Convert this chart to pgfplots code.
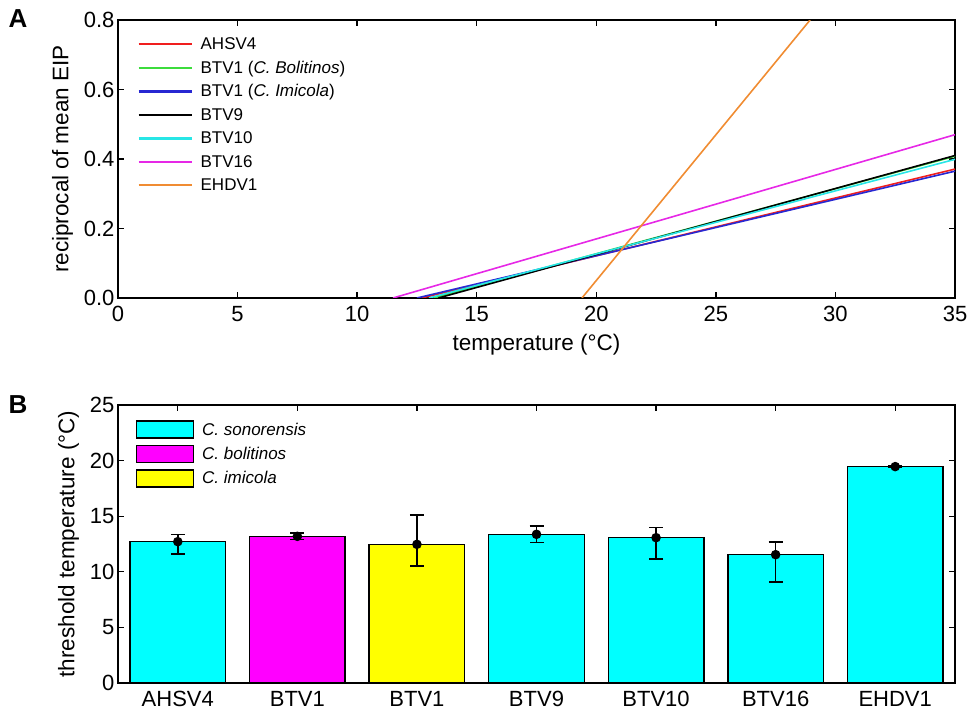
\documentclass[border=0pt]{standalone}
\usepackage{fontspec}
\setmainfont{Liberation Sans}
\usepackage{pgfplots}
\pgfplotsset{compat=1.18}
\usepackage{pgfplotstable}

\definecolor{cRed}{RGB}{240,30,30}
\definecolor{cGreen}{RGB}{60,220,60}
\definecolor{cBlue}{RGB}{40,40,210}
\definecolor{cCyan}{RGB}{40,230,230}
\definecolor{cMag}{RGB}{230,40,230}
\definecolor{cOrange}{RGB}{240,140,50}
\definecolor{bCyan}{RGB}{0,255,255}
\definecolor{bMag}{RGB}{255,0,255}
\definecolor{bYel}{RGB}{255,255,0}

\pgfplotstableread{
x y ep em
0 12.71 0.63 1.11
1 13.19 0.30 0.29
2 12.47 2.65 1.93
3 13.37 0.76 0.75
4 13.07 0.91 1.93
5 11.54 1.14 2.47
6 19.46 0.06 0.06
}\errdata

\pgfplotsset{
  myax/.style={
    scale only axis, width=837pt, height=278pt,
    axis line style={line width=1.4pt},
    every tick/.style={line width=1.3pt, black},
    major tick length=6pt,
    tick label style={font=\fontsize{22}{24}\selectfont},
    xticklabel style={yshift=-5pt},
    label style={font=\fontsize{22.5}{24}\selectfont},
    /pgf/number format/assume math mode=true,
  }
}

\begin{document}
\begin{tikzpicture}[x=1pt,y=1pt]
\path[use as bounding box] (0,0) rectangle (968,712);
\node[font=\bfseries\fontsize{26}{26}\selectfont] at (18,693) {A};
\node[font=\bfseries\fontsize{26}{26}\selectfont] at (18,307) {B};

\begin{axis}[myax,
  at={(118pt,414pt)}, anchor=south west,
  xmin=0, xmax=35, ymin=0, ymax=0.8,
  xtick={0,5,10,15,20,25,30,35},
  ytick={0,0.2,0.4,0.6,0.8},
  yticklabel style={/pgf/number format/.cd, fixed, fixed zerofill, precision=1},
  xlabel={temperature (\textdegree C)},
  ylabel={reciprocal of mean EIP},
  xlabel style={yshift=-5pt},
  ylabel style={yshift=4pt},
  legend style={at={(0.023,0.945)}, anchor=north west, draw=none, fill=none,
    font=\fontsize{17}{19}\selectfont, row sep=6pt, inner sep=0pt,
    /tikz/every odd column/.append style={column sep=6pt}},
  legend cell align=left,
  legend image code/.code={\draw[#1, line width=2.2pt] (0pt,0pt) -- (53pt,0pt);},
  every axis plot/.append style={line width=1.6pt},
]
\addplot[cRed] coordinates {(12.7,0) (35,0.371)};
\addlegendentry{AHSV4}
\addplot[cGreen] coordinates {(13.2,0) (35,0.408)};
\addlegendentry{BTV1 (\textit{C. Bolitinos})}
\addplot[cBlue] coordinates {(12.5,0) (35,0.365)};
\addlegendentry{BTV1 (\textit{C. Imicola})}
\addplot[black] coordinates {(13.4,0) (35,0.410)};
\addlegendentry{BTV9}
\addplot[cCyan] coordinates {(13.0,0) (35,0.399)};
\addlegendentry{BTV10}
\addplot[cMag] coordinates {(11.5,0) (35,0.470)};
\addlegendentry{BTV16}
\addplot[cOrange] coordinates {(19.4,0) (28.94,0.8)};
\addlegendentry{EHDV1}
\end{axis}

\begin{axis}[myax,
  at={(118pt,29pt)}, anchor=south west,
  xmin=-0.5, xmax=6.5, ymin=0, ymax=25,
  xtick={0,1,2,3,4,5,6},
  xticklabels={AHSV4,BTV1,BTV1,BTV9,BTV10,BTV16,EHDV1},
  ytick={0,5,10,15,20,25},
  ylabel={threshold temperature (\textdegree C)},
  ylabel style={yshift=4pt},
  legend style={at={(0.021,0.945)}, anchor=north west, draw=none, fill=none,
    font=\fontsize{17}{19}\selectfont\itshape, row sep=6pt, inner sep=0pt,
    /tikz/every odd column/.append style={column sep=6pt}},
  legend cell align=left,
  legend image code/.code={\draw[#1] (0pt,-8.5pt) rectangle (57pt,8.5pt);},
]
\addplot[ybar, bar width=0.8, bar shift=0pt, fill=bCyan, draw=black, line width=1.4pt]
  coordinates {(0,12.71) (3,13.37) (4,13.07) (5,11.54) (6,19.46)};
\addlegendentry{C. sonorensis}
\addplot[ybar, bar width=0.8, bar shift=0pt, fill=bMag, draw=black, line width=1.4pt]
  coordinates {(1,13.19)};
\addlegendentry{C. bolitinos}
\addplot[ybar, bar width=0.8, bar shift=0pt, fill=bYel, draw=black, line width=1.4pt]
  coordinates {(2,12.47)};
\addlegendentry{C. imicola}
\addplot[forget plot, only marks, mark=*, mark size=4pt, black, line width=1.5pt,
  error bars/.cd, y dir=both, y explicit,
  error bar style={line width=1.5pt, black},
  error mark options={rotate=90, mark size=7pt, line width=1.5pt, black}]
  table[x=x, y=y, y error plus=ep, y error minus=em] {\errdata};
\end{axis}
\end{tikzpicture}
\end{document}
